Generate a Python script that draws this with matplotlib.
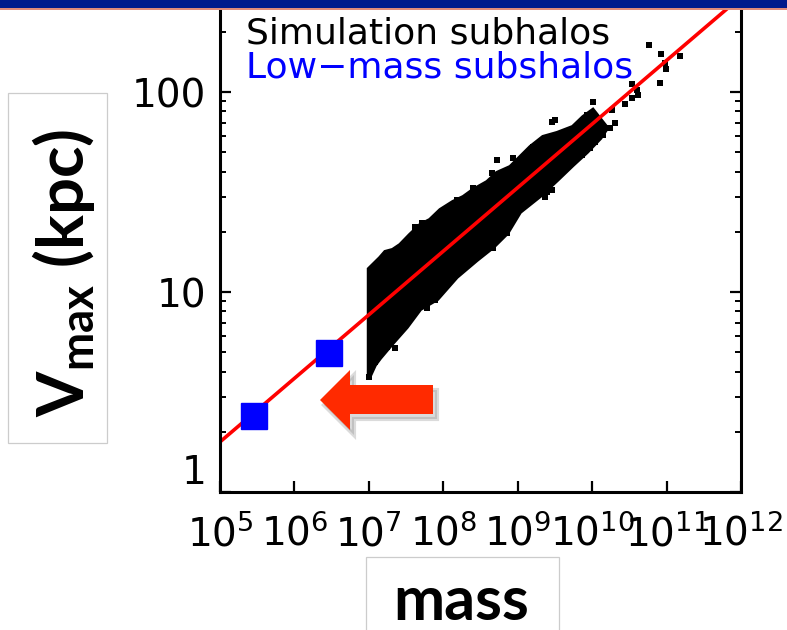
import numpy as np
import matplotlib
matplotlib.use("Agg")
import matplotlib.pyplot as plt
from matplotlib.patches import Rectangle, Polygon
from matplotlib.ticker import FixedLocator, NullLocator, LogLocator, NullFormatter

plt.rcParams["font.family"] = ["DejaVu Sans"]
plt.rcParams["mathtext.fontset"] = "custom"
plt.rcParams["mathtext.rm"] = "DejaVu Sans"
plt.rcParams["mathtext.it"] = "DejaVu Sans:italic"
plt.rcParams["mathtext.bf"] = "Lato:bold"

# ---------------- data ----------------
# dense cloud of simulation subhalos: upper and lower envelope (log10 mass, log10 vmax)
cloud_upper_logm = [7.00, 7.15, 7.22, 7.32, 7.42, 7.55, 7.69, 7.82, 7.96, 8.13, 8.27,
                    8.40, 8.59, 8.72, 8.90, 9.17, 9.34, 9.53, 9.74, 9.88, 10.01]
cloud_upper_logv = [1.115, 1.170, 1.200, 1.210, 1.235, 1.285, 1.335, 1.360, 1.410, 1.450, 1.475,
                    1.510, 1.550, 1.595, 1.625, 1.725, 1.775, 1.795, 1.825, 1.875, 1.910]
cloud_lower_logm = [10.20, 10.11, 9.93, 9.74, 9.53, 9.30, 9.03, 8.86, 8.67, 8.45, 8.18,
                    7.92, 7.69, 7.51, 7.32, 7.15, 7.08, 7.00]
cloud_lower_logv = [1.820, 1.770, 1.700, 1.635, 1.560, 1.480, 1.400, 1.295, 1.225, 1.160, 1.075,
                    0.965, 0.915, 0.825, 0.745, 0.670, 0.635, 0.570]

# individual (sparse) simulation subhalos
sparse_logm = [10.76, 10.93, 11.18, 10.98, 10.99, 10.91, 10.54, 10.60, 10.62, 10.54, 10.44,
               10.01, 10.27, 10.31, 10.24, 10.15, 10.04, 9.93, 9.97, 9.86, 9.46, 9.50,
               9.93, 9.97, 9.21, 8.94, 8.72, 9.39, 9.37, 9.46, 9.57, 9.61, 9.83, 10.07,
               7.62, 7.71, 8.18, 8.40, 8.65, 7.78, 7.89, 8.16, 8.43, 8.67, 8.86,
               7.24, 7.35, 7.08, 7.00]
sparse_logv = [2.235, 2.190, 2.180, 2.145, 2.115, 2.045, 2.040, 2.010, 1.985, 1.970, 1.940,
               1.950, 1.910, 1.845, 1.820, 1.785, 1.750, 1.735, 1.720, 1.685, 1.850, 1.860,
               1.885, 1.870, 1.725, 1.670, 1.660, 1.500, 1.475, 1.510, 1.595, 1.625, 1.745, 1.825,
               1.325, 1.345, 1.460, 1.520, 1.595, 0.920, 0.960, 1.085, 1.170, 1.220, 1.295,
               0.725, 0.720, 0.650, 0.575]

# fitted relation (red line), end points
line_mass = [1e5, 1e12]
line_vmax = [1.78, 299.0]

# low-mass subhalos (blue squares)
low_mass = [2.87e5, 2.87e6]
low_vmax = [2.40, 4.98]

x_ticks = [1e5, 1e6, 1e7, 1e8, 1e9, 1e10, 1e11, 1e12]
x_tick_labels = [r"$10^{5}$", r"$10^{6}$", r"$10^{7}$", r"$10^{8}$",
                 r"$10^{9}$", r"$10^{10}$", r"$10^{11}$", r"$10^{12}$"]
y_ticks = [1, 10, 100]
y_tick_labels = ["1", "10", "100"]

legend_lines = ["Simulation subhalos", "Low\u2212mass subshalos"]
legend_colors = ["black", "#0000ff"]

# ---------------- figure ----------------
W, H = 787, 630
fig = plt.figure(figsize=(W / 100, H / 100), dpi=100)
fig.patch.set_facecolor("white")


def fx(px):
    return px / W


def fy(py):
    return 1 - py / H


ax = fig.add_axes([fx(220), fy(492), fx(741) - fx(220), fy(0) - fy(492)])
ax.set_xscale("log")
ax.set_yscale("log")
ax.set_xlim(1e5, 1e12)
ax.set_ylim(1, 10 ** 2.46)

# dense cloud
poly_m = [10 ** v for v in cloud_upper_logm + cloud_lower_logm]
poly_v = [10 ** v for v in cloud_upper_logv + cloud_lower_logv]
ax.fill(poly_m, poly_v, color="black", ec="black", lw=3.0, zorder=2)
ax.scatter([10 ** v for v in sparse_logm], [10 ** v for v in sparse_logv],
           marker="s", s=18, color="black", lw=0, zorder=2)

ax.plot(line_mass, line_vmax, color="#ff0000", lw=2.6, zorder=3)
ax.plot(low_mass, low_vmax, ls="none", marker="s", ms=18.5, color="#0000ff",
        mec="#0000ff", zorder=4)

# axes styling
for side in ["left", "right", "bottom"]:
    ax.spines[side].set_visible(True)
    ax.spines[side].set_linewidth(2.2)
    ax.spines[side].set_color("black")
    ax.spines[side].set_zorder(6)
ax.spines["top"].set_visible(False)

ax.xaxis.set_major_locator(FixedLocator(x_ticks))
ax.set_xticklabels(x_tick_labels)
ax.xaxis.set_minor_locator(NullLocator())
ax.yaxis.set_major_locator(FixedLocator(y_ticks))
ax.set_yticklabels(y_tick_labels)
ax.yaxis.set_minor_locator(LogLocator(base=10, subs=np.arange(2, 10)))
ax.yaxis.set_minor_formatter(NullFormatter())

ax.tick_params(axis="both", which="major", direction="in", length=8, width=1.6,
               labelsize=28, color="black")
ax.tick_params(axis="y", which="both", right=True, left=True)
ax.tick_params(axis="y", which="minor", direction="in", length=4, width=1.4)
ax.tick_params(axis="y", which="major", pad=10)
ax.tick_params(axis="x", which="major", pad=16, top=False)
ax.get_yticklabels()[0].set_va("bottom")

# legend-like labels
fig.text(fx(246), fy(44), legend_lines[0], color=legend_colors[0], fontsize=26,
         ha="left", va="baseline")
fig.text(fx(246), fy(77), legend_lines[1], color=legend_colors[1], fontsize=26,
         ha="left", va="baseline")

# red arrow with soft shadow
arrow_px = [(320, 400), (350, 370), (350, 385), (433, 385), (433, 414), (350, 414), (350, 430)]
shadow = Polygon([(fx(x + 4), fy(y + 5)) for x, y in arrow_px], closed=True,
                 transform=fig.transFigure, color="#888888", alpha=0.3, lw=3, zorder=5)
fig.patches.append(shadow)
arrow = Polygon([(fx(x), fy(y)) for x, y in arrow_px], closed=True,
                transform=fig.transFigure, color="#ff2a00", lw=0, zorder=6)
fig.patches.append(arrow)

# axis title boxes
ybox = Rectangle((fx(8), fy(443)), fx(107) - fx(8), fy(93) - fy(443),
                 transform=fig.transFigure, fc="white", ec="#cccccc", lw=0.9)
fig.patches.append(ybox)
fig.text(fx(64), fy(273), r"$\mathbf{V}_{\mathbf{max}}$ (kpc)", fontfamily="Lato",
         fontweight="bold", fontsize=47, rotation=90, ha="center", va="center")

xbox = Rectangle((fx(366), fy(650)), fx(559) - fx(366), fy(557) - fy(650),
                 transform=fig.transFigure, fc="white", ec="#cccccc", lw=0.9)
fig.patches.append(xbox)
fig.text(fx(461), fy(620), "mass", fontfamily="Lato", fontweight="bold",
         fontsize=44, ha="center", va="baseline")

# top banner
fig.patches.append(Rectangle((0, fy(8)), 1, fy(0) - fy(8), transform=fig.transFigure,
                             fc="#001a8c", ec="none", zorder=10))
fig.patches.append(Rectangle((0, fy(10)), 1, fy(8) - fy(10), transform=fig.transFigure,
                             fc="#e08a7a", ec="none", zorder=10))

fig.savefig("out.png", dpi=100)
